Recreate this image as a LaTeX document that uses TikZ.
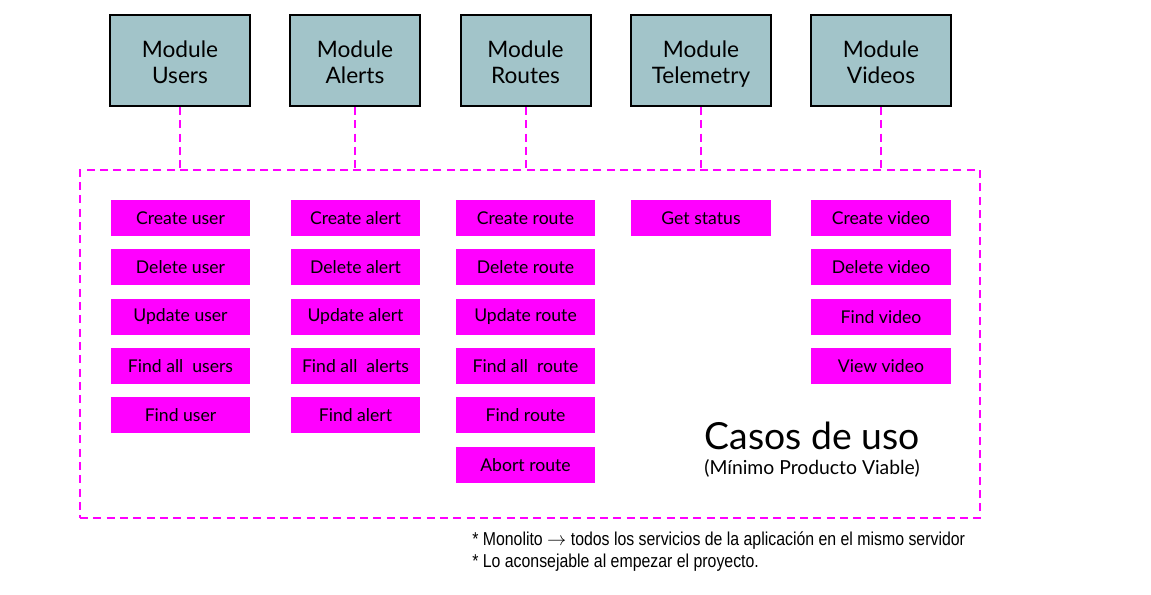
\documentclass[tikz,border=0pt]{standalone}
\usepackage{fontspec}
\setmainfont{Lato}
\newfontfamily\notefont[FakeStretch=0.85]{Liberation Sans}
\usetikzlibrary{shadows}

\definecolor{modfill}{HTML}{A2C4C9}
\definecolor{casefill}{HTML}{FF00FF}

\begin{document}
\begin{tikzpicture}[x=0.75pt, y=-0.75pt,
    module/.style={rectangle, draw=black, line width=1.5pt, fill=modfill, minimum height=68pt,
        align=center, font=\fontsize{17}{19.5}\selectfont,
        drop shadow={shadow xshift=1pt, shadow yshift=-1pt, opacity=0.25}},
    casebox/.style={rectangle, fill=casefill, minimum height=27pt, inner sep=0pt,
        font=\fontsize{13.2}{15}\selectfont},
    frame/.style={rectangle, draw=casefill, line width=1.5pt, dash pattern=on 6pt off 4pt},
    link/.style={draw=casefill, line width=1.5pt, dash pattern=on 6pt off 4pt}]
    \useasboundingbox (0,0) rectangle (1151,594);

    % dashed frame of the use cases
    \node[frame, minimum width=900*0.75pt, minimum height=348*0.75pt] (frame) at (530,344) {};

    % modules
    \foreach \name/\x/\w [count=\i] in {Users/180/140, Alerts/355/130, Routes/525.5/130, Telemetry/701/140, Videos/881/140}
    {
        \node[module, minimum width=\w*0.75pt] (m\i) at (\x,60.5) {\rule{0pt}{17.5pt}Module\\\name\vphantom{y}};
        \draw[link] (m\i.south) -- (m\i.south |- frame.north);
    }

    % use cases
    \foreach \t [count=\j] in {Create user, Delete user, Update user, Find all~ users, Find user}
        \node[casebox, minimum width=139*0.75pt] (u\j) at (180.5, 168.8+\j*49.3) {\t};
    \foreach \t [count=\j] in {Create alert, Delete alert, Update alert, Find all~ alerts, Find alert}
        \node[casebox, minimum width=129*0.75pt] (a\j) at (355.5, 168.8+\j*49.3) {\t};
    \foreach \t [count=\j] in {Create route, Delete route, Update route, Find all~ route, Find route, Abort route}
        \node[casebox, minimum width=139*0.75pt] (r\j) at (525.5, 168.8+\j*49.3) {\t};
    \node[casebox, minimum width=140*0.75pt] (t1) at (701, 218) {Get status};
    \foreach \t [count=\j] in {Create video, Delete video, Find video, View video}
        \node[casebox, minimum width=140*0.75pt] (v\j) at (881, 168.8+\j*49.3) {\t};

    % title
    \node[font=\fontsize{28}{32}\selectfont] (title) at (812,436) {Casos de uso};
    \node[font=\fontsize{14.5}{17}\selectfont] (subtitle) at (812,468) {(Mínimo Producto Viable)};

    % notes
    \node[anchor=west, inner sep=0pt, font=\notefont\fontsize{14}{16}\selectfont] (note1) at (472,541)
        {* Monolito $\rightarrow$ todos los servicios de la aplicación en el mismo servidor};
    \node[anchor=west, inner sep=0pt, font=\notefont\fontsize{14}{16}\selectfont] (note2) at (472,563)
        {* Lo aconsejable al empezar el proyecto.};
\end{tikzpicture}
\end{document}
